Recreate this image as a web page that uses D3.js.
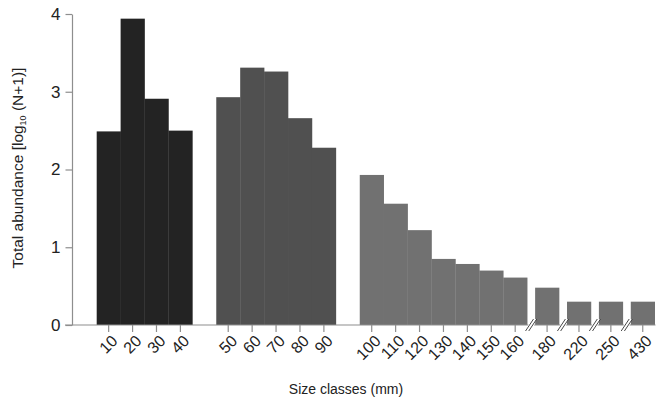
<!DOCTYPE html>
<html>
<head>
<meta charset="utf-8">
<script src="https://cdn.jsdelivr.net/npm/d3@7"></script>
<style>
  html, body { margin: 0; padding: 0; background: #fff; }
  svg { display: block; }
  text { font-family: "Liberation Sans", Arial, Helvetica, sans-serif; fill: #222; }
</style>
</head>
<body>
<svg id="chart" width="659" height="403"></svg>
<script>
// ---- data ----
const groupA = ["10", "20", "30", "40"];
const groupB = ["50", "60", "70", "80", "90"];
const groupC = ["100", "110", "120", "130", "140", "150", "160"];
const groupD = ["180", "220", "250", "430"];   // axis-broken classes
const valuesA = [2.49, 3.94, 2.91, 2.50];
const valuesB = [2.93, 3.31, 3.26, 2.66, 2.28];
const valuesC = [1.93, 1.56, 1.22, 0.85, 0.785, 0.70, 0.61];
const valuesD = [0.48, 0.30, 0.30, 0.30];
const yTicks = [0, 1, 2, 3, 4];

const groups = [
  { cats: groupA, vals: valuesA, color: "#232323", broken: false },
  { cats: groupB, vals: valuesB, color: "#505050", broken: false },
  { cats: groupC, vals: valuesC, color: "#717171", broken: false },
  { cats: groupD, vals: valuesD, color: "#717171", broken: true }
];

// ---- layout in slot units ----
const bars = [];
const breaks = [];
let pos = 0;
groups.forEach((g, gi) => {
  if (!g.broken && gi > 0) pos += 1;
  g.cats.forEach((c, i) => {
    if (g.broken) { breaks.push(pos + 1/6); pos += 1/3; }
    bars.push({ cat: c, value: g.vals[i], color: g.color, start: pos });
    pos += 1;
  });
});
const totalSlots = pos;

const svg = d3.select("#chart");
const x = d3.scaleLinear().domain([0, totalSlots]).range([96.7, 654.7]);
const y = d3.scaleLinear().domain([0, 4]).range([325, 14]);

const axisColor = "#8e8e8e";

// bars
svg.append("g").selectAll("rect").data(bars).enter().append("rect")
  .attr("x", d => x(d.start))
  .attr("width", d => x(d.start + 1) - x(d.start) + 0.3)
  .attr("y", d => y(d.value))
  .attr("height", d => y(0) - y(d.value))
  .attr("fill", d => d.color);

// x baseline
svg.append("line")
  .attr("x1", 65).attr("x2", 655.5)
  .attr("y1", y(0)).attr("y2", y(0))
  .attr("stroke", axisColor).attr("stroke-width", 1.2);

// y axis
const yAxis = d3.axisLeft(y).tickValues(yTicks).tickFormat(d3.format("d"))
  .tickSize(6.5).tickSizeOuter(0).tickPadding(5);
const gy = svg.append("g").attr("transform", "translate(72,0)").call(yAxis);
gy.select(".domain").attr("stroke", axisColor).attr("stroke-width", 1.2);
gy.selectAll(".tick line").attr("stroke", axisColor).attr("stroke-width", 1.2);
gy.selectAll(".tick text").attr("font-size", 17).attr("fill", "#222")
  .style("font-family", "'Liberation Sans', Arial, sans-serif");

// x ticks
const xt = svg.append("g");
xt.selectAll("line").data(bars).enter().append("line")
  .attr("x1", d => (x(d.start) + x(d.start + 1)) / 2)
  .attr("x2", d => (x(d.start) + x(d.start + 1)) / 2)
  .attr("y1", y(0)).attr("y2", y(0) + 7)
  .attr("stroke", axisColor).attr("stroke-width", 1.2);
xt.selectAll("text").data(bars).enter().append("text")
  .attr("transform", d => {
    const cx = (x(d.start) + x(d.start + 1)) / 2;
    return `translate(${cx + 10},${y(0) + 17}) rotate(-45)`;
  })
  .attr("text-anchor", "end")
  .attr("font-size", 16)
  .text(d => d.cat);

// axis break marks
const bk = svg.append("g");
breaks.forEach(b => {
  const cx = x(b), cy = y(0);
  bk.append("polygon")
    .attr("points", `${cx-5},${cy+6} ${cx+1},${cy+6} ${cx+5},${cy-6} ${cx-1},${cy-6}`)
    .attr("fill", "#fff");
  [-1.6, 1.6].forEach(o => {
    bk.append("line")
      .attr("x1", cx + o - 4).attr("y1", cy + 6)
      .attr("x2", cx + o + 4).attr("y2", cy - 6)
      .attr("stroke", "#333").attr("stroke-width", 0.9);
  });
});

// axis titles
svg.append("text")
  .attr("x", 346).attr("y", 394)
  .attr("text-anchor", "middle")
  .attr("font-size", 14)
  .text("Size classes (mm)");

const yt = svg.append("text")
  .attr("transform", "translate(23,168) rotate(-90)")
  .attr("text-anchor", "middle")
  .attr("font-size", 15.5);
yt.append("tspan").text("Total abundance [log");
yt.append("tspan").attr("font-size", 9).attr("dy", 3).text("10");
yt.append("tspan").attr("dy", -3).text(" (N+1)]");
</script>
</body>
</html>
